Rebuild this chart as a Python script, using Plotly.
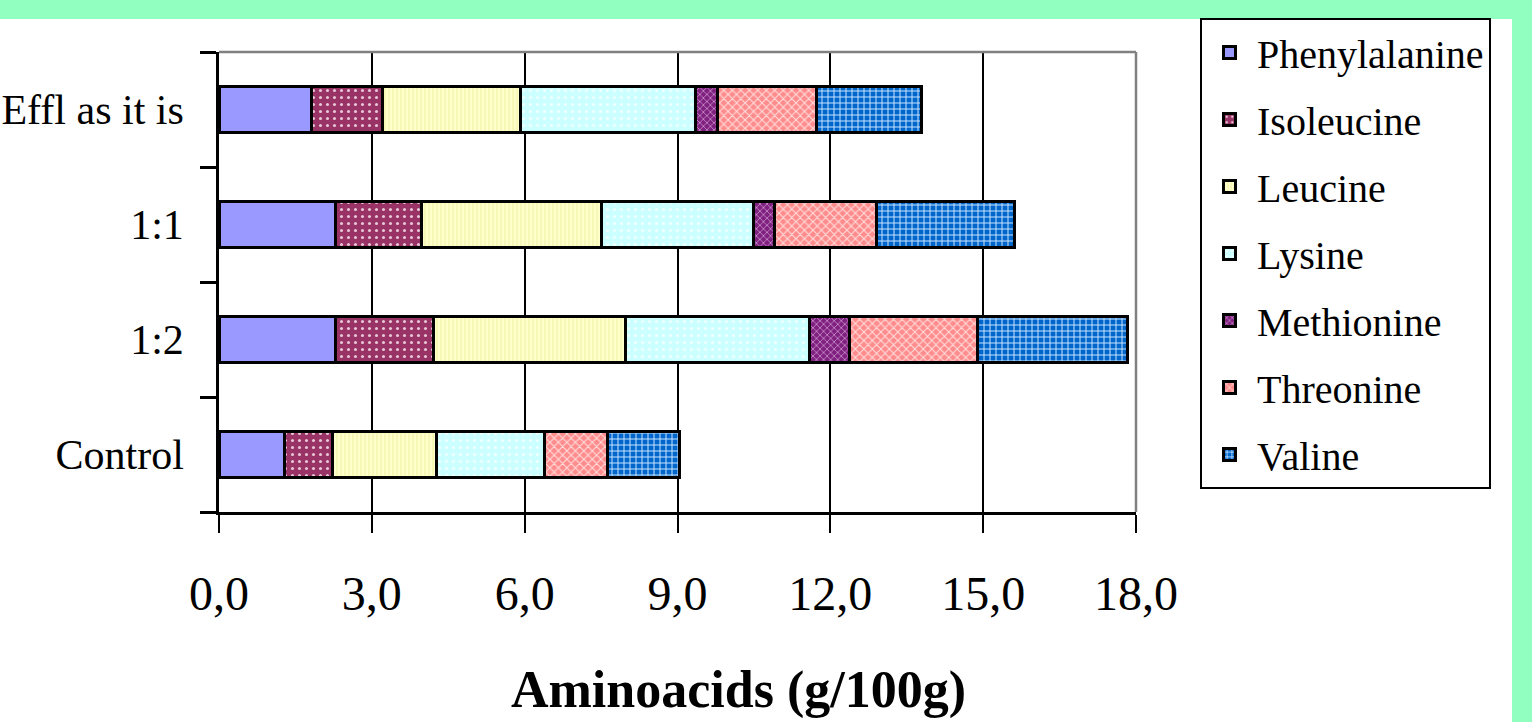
import plotly.graph_objects as go

categories = ["Control", "1:2", "1:1", "Effl as it is"]
series_names = ["Phenylalanine", "Isoleucine", "Leucine", "Lysine", "Methionine", "Threonine", "Valine"]

phenylalanine = [1.28, 2.28, 2.28, 1.81]
isoleucine = [0.94, 1.93, 1.69, 1.39]
leucine = [2.05, 3.77, 3.53, 2.71]
lysine = [2.12, 3.62, 2.99, 3.45]
methionine = [0.0, 0.77, 0.42, 0.43]
threonine = [1.23, 2.52, 1.99, 1.93]
valine = [1.41, 2.95, 2.71, 2.07]

x_ticks = [0, 3, 6, 9, 12, 15, 18]

values = [phenylalanine, isoleucine, leucine, lysine, methionine, threonine, valine]

styles = [
    dict(bg="#9999FF", fg="#9999FF", shape="", size=8, sol=0.2),
    dict(bg="#993366", fg="#E8C8D8", shape=".", size=7, sol=0.15),
    dict(bg="#FFFFCC", fg="#F2F2A0", shape="|", size=4, sol=0.25),
    dict(bg="#CCFFFF", fg="#F0FFFF", shape=".", size=7, sol=0.15),
    dict(bg="#802080", fg="#C890C8", shape="x", size=5, sol=0.3),
    dict(bg="#FF8C8C", fg="#FFE0E0", shape="x", size=6, sol=0.3),
    dict(bg="#0066CC", fg="#CCE6FF", shape="+", size=6, sol=0.3),
]

FONT = "Liberation Serif, Times New Roman, serif"

fig = go.Figure()
for name, vals, st in zip(series_names, values, styles):
    fig.add_trace(go.Bar(
        y=categories, x=vals, name=name, orientation="h", width=0.4,
        legendgroup=name,
        marker=dict(
            color=st["bg"],
            line=dict(color="black", width=3),
            pattern=dict(shape=st["shape"], fgcolor=st["fg"], bgcolor=st["bg"],
                         size=st["size"], solidity=st["sol"], fillmode="replace"),
        ),
    ))

L, R, T, B = 219, 1136, 52, 512
W, H = 1532, 722
pw, ph = R - L, B - T

def px(xp):
    return (xp - L) / pw

def py(yp):
    return (B - yp) / ph

shapes = [
    dict(type="rect", xref="paper", yref="paper", x0=px(0), x1=px(W), y0=py(19), y1=py(0),
         fillcolor="#90FFC0", line=dict(width=0), layer="below"),
    dict(type="rect", xref="paper", yref="paper", x0=px(1512), x1=px(W), y0=py(H), y1=py(0),
         fillcolor="#90FFC0", line=dict(width=0), layer="below"),
    dict(type="line", xref="paper", yref="paper", x0=0, x1=1, y0=1, y1=1,
         line=dict(color="#808080", width=2.5), layer="above"),
    dict(type="line", xref="paper", yref="paper", x0=1, x1=1, y0=0, y1=1,
         line=dict(color="#808080", width=2.5), layer="above"),
]

fig.update_layout(
    width=W, height=H,
    margin=dict(l=L, r=W - R, t=T, b=H - B, pad=0, autoexpand=False),
    paper_bgcolor="white",
    plot_bgcolor="white",
    barmode="stack",
    separators=", ",
    font=dict(family=FONT, color="black"),
    showlegend=True,
    legend=dict(
        x=px(1200), y=py(18), xanchor="left", yanchor="top",
        bordercolor="black", borderwidth=2, bgcolor="white",
        font=dict(family=FONT, size=40, color="black"),
        tracegroupgap=12, itemwidth=45, traceorder="grouped",
        maxheight=700,
    ),
    shapes=shapes,
    annotations=[dict(
        text="<b>Aminoacids (g/100g)</b>", xref="paper", yref="paper",
        x=px(738), y=py(690), xanchor="center", yanchor="middle", showarrow=False,
        font=dict(family=FONT, size=52, color="black"),
    )],
)

fig.update_xaxes(
    range=[0, 18], tickmode="array", tickvals=x_ticks, tickformat=".1f",
    showgrid=True, gridcolor="black", gridwidth=2, zeroline=False,
    showline=True, linecolor="black", linewidth=2.5,
    ticks="outside", ticklen=18, tickwidth=2, tickcolor="black",
    tickfont=dict(family=FONT, size=48, color="black"),
    ticklabelstandoff=20,
)
fig.update_yaxes(
    type="category", categoryorder="array", categoryarray=categories,
    range=[-0.5, 3.5], showgrid=False, zeroline=False,
    showline=True, linecolor="black", linewidth=2.5,
    ticks="outside", tickson="boundaries", ticklen=16, tickwidth=2.5, tickcolor="black",
    tickfont=dict(family=FONT, size=42, color="black"),
    ticklabelstandoff=24,
)

fig.write_html("out.html")
